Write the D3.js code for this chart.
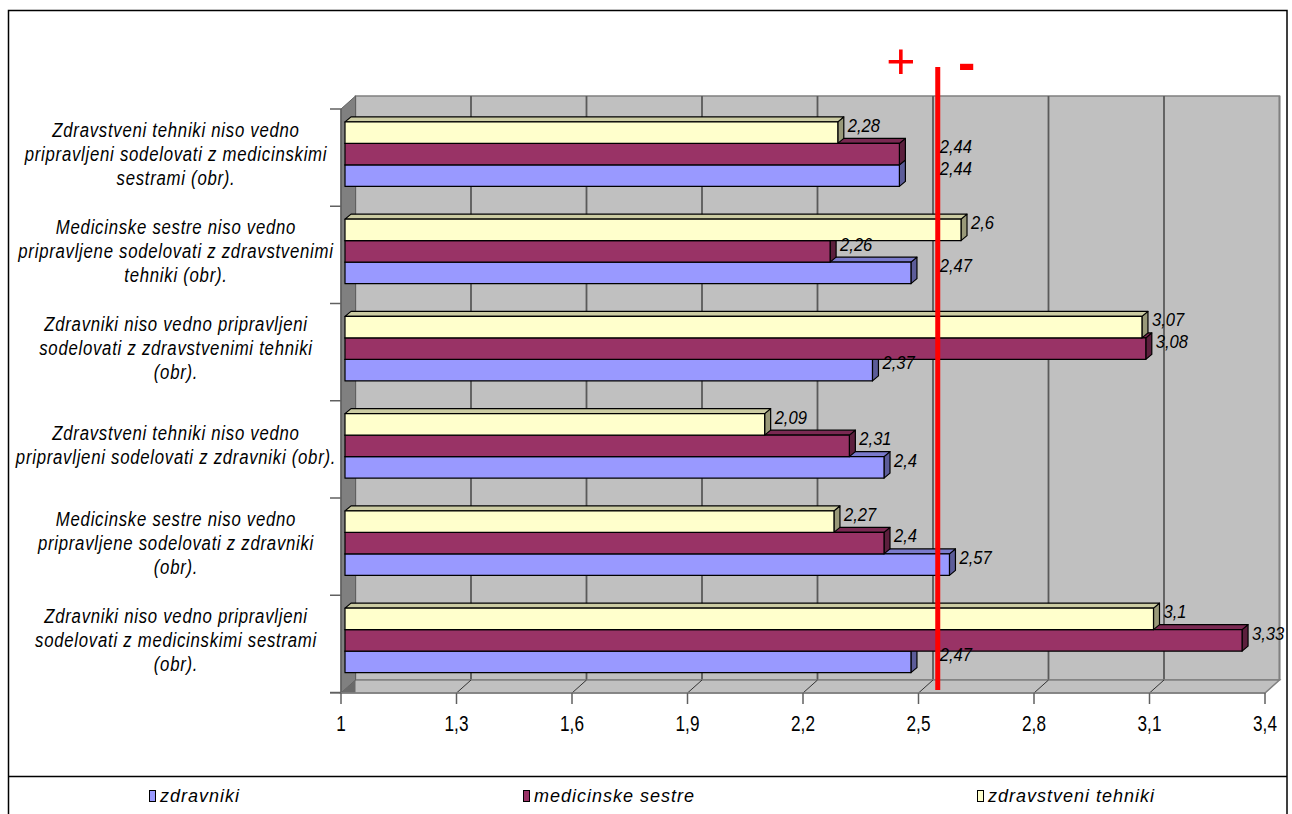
<!DOCTYPE html>
<html><head><meta charset="utf-8">
<script src="https://cdn.jsdelivr.net/npm/d3@7"></script>
<style>body{margin:0;background:#fff} svg{display:block}</style>
</head><body>
<svg id="c" width="1292" height="814"></svg>
<script>
// ---------- DATA ----------
const categories = [
  "Zdravstveni tehniki niso vedno pripravljeni sodelovati z medicinskimi sestrami (obr).",
  "Medicinske sestre niso vedno pripravljene sodelovati z zdravstvenimi tehniki (obr).",
  "Zdravniki niso vedno pripravljeni sodelovati z zdravstvenimi tehniki (obr).",
  "Zdravstveni tehniki niso vedno pripravljeni sodelovati z zdravniki (obr).",
  "Medicinske sestre niso vedno pripravljene sodelovati z zdravniki (obr).",
  "Zdravniki niso vedno pripravljeni sodelovati z medicinskimi sestrami (obr)."
];
const categoryLines = [
  ["Zdravstveni tehniki niso vedno", "pripravljeni sodelovati z medicinskimi", "sestrami (obr)."],
  ["Medicinske sestre niso vedno", "pripravljene sodelovati z zdravstvenimi", "tehniki (obr)."],
  ["Zdravniki niso vedno pripravljeni", "sodelovati z zdravstvenimi tehniki", "(obr)."],
  ["Zdravstveni tehniki niso vedno", "pripravljeni sodelovati z zdravniki (obr)."],
  ["Medicinske sestre niso vedno", "pripravljene sodelovati z zdravniki", "(obr)."],
  ["Zdravniki niso vedno pripravljeni", "sodelovati z medicinskimi sestrami", "(obr)."]
];
const seriesNames = ["zdravniki", "medicinske sestre", "zdravstveni tehniki"];
const zdravniki = [2.44, 2.47, 2.37, 2.4, 2.57, 2.47];
const medicinskeSestre = [2.44, 2.26, 3.08, 2.31, 2.4, 3.33];
const zdravstveniTehniki = [2.28, 2.6, 3.07, 2.09, 2.27, 3.1];
const xTicks = [1, 1.3, 1.6, 1.9, 2.2, 2.5, 2.8, 3.1, 3.4];
const xTickLabels = ["1", "1,3", "1,6", "1,9", "2,2", "2,5", "2,8", "3,1", "3,4"];
const thresholdValue = 2.55;
const thresholdLabels = ["+", "-"];

// ---------- STYLE ----------
const seriesColors = {
  "zdravniki": {front: "#9999ff", top: "#7a7acc", side: "#5c5c99"},
  "medicinske sestre": {front: "#993366", top: "#7a2952", side: "#5c1f3d"},
  "zdravstveni tehniki": {front: "#ffffcc", top: "#cccca3", side: "#999979"}
};
const seriesValues = {
  "zdravniki": zdravniki,
  "medicinske sestre": medicinskeSestre,
  "zdravstveni tehniki": zdravstveniTehniki
};
const FONT = "'Liberation Sans', Arial, sans-serif";

const svg = d3.select("#c");

// frame
svg.append("rect").attr("x", 8.5).attr("y", 10.5).attr("width", 1278.5).attr("height", 830)
  .attr("fill", "#fff").attr("stroke", "#000").attr("stroke-width", 1.5);
svg.append("line").attr("x1", 8).attr("x2", 1287).attr("y1", 776.5).attr("y2", 776.5)
  .attr("stroke", "#000").attr("stroke-width", 1.5);

// scales (front plane)
const x = d3.scaleLinear().domain([1, 3.4]).range([341, 1265]);
const y = d3.scaleBand().domain(categories).range([109, 692.5]).paddingInner(0).paddingOuter(0);
const DX = 14.5, DY = -13;       // depth of the 3D box
const BX = 4, BY = -3.5;          // bar front plane offset
const BDX = 6, BDY = -5;          // bar depth

const yTop = 109, yBot = 693;

// back wall
svg.append("rect").attr("x", x(1) + DX).attr("y", yTop + DY)
  .attr("width", x(3.4) - x(1)).attr("height", yBot - yTop)
  .attr("fill", "#c0c0c0").attr("stroke", "#808080").attr("stroke-width", 1.5);

// back gridlines
svg.append("g").selectAll("line").data(xTicks.slice(1)).join("line")
  .attr("x1", d => x(d) + DX).attr("x2", d => x(d) + DX)
  .attr("y1", yTop + DY).attr("y2", yBot + DY)
  .attr("stroke", d => d === 3.4 ? "#808080" : "#5a5a5a").attr("stroke-width", 1.8);

// floor
svg.append("path")
  .attr("d", `M${x(1)},${yBot} L${x(1) + DX},${yBot + DY} L${x(3.4) + DX},${yBot + DY} L${x(3.4)},${yBot} Z`)
  .attr("fill", "#c0c0c0").attr("stroke", "#808080").attr("stroke-width", 1.5);
svg.append("g").selectAll("line").data(xTicks.slice(1, -1)).join("line")
  .attr("x1", d => x(d)).attr("x2", d => x(d) + DX)
  .attr("y1", yBot).attr("y2", yBot + DY)
  .attr("stroke", "#333").attr("stroke-width", 1);

// side wall
svg.append("path")
  .attr("d", `M${x(1)},${yTop} L${x(1) + DX},${yTop + DY} L${x(1) + DX},${yBot + DY} L${x(1)},${yBot} Z`)
  .attr("fill", "#808080").attr("stroke", "#606060").attr("stroke-width", 1);
svg.append("path")
  .attr("d", `M${x(1)},${yBot} L${x(1) + DX},${yBot + DY} L${x(1) + DX},${yBot} Z`)
  .attr("fill", "#6a6a6a");

// axis lines
svg.append("line").attr("x1", x(1)).attr("x2", x(1)).attr("y1", yTop).attr("y2", yBot)
  .attr("stroke", "#606060").attr("stroke-width", 1.5);
svg.append("line").attr("x1", 330).attr("x2", x(3.4)).attr("y1", yBot).attr("y2", yBot)
  .attr("stroke", "#808080").attr("stroke-width", 1.5);

// left ticks at category boundaries
const boundaries = categories.map(c => y(c)).concat([y.range()[1]]);
svg.append("g").selectAll("line").data(boundaries).join("line")
  .attr("x1", 330).attr("x2", x(1)).attr("y1", d => d).attr("y2", d => d)
  .attr("stroke", "#606060").attr("stroke-width", 1.5);

// bottom ticks
svg.append("g").selectAll("line").data(xTicks).join("line")
  .attr("x1", d => x(d)).attr("x2", d => x(d)).attr("y1", yBot).attr("y2", yBot + 11)
  .attr("stroke", "#606060").attr("stroke-width", 1.5);

// tick labels
svg.append("g").selectAll("text").data(xTicks).join("text")
  .attr("transform", d => `translate(${x(d)},731) scale(0.78,1)`)
  .attr("text-anchor", "middle").attr("font-family", FONT).attr("font-size", 22)
  .attr("fill", "#000").text((d, i) => xTickLabels[i]);

// category labels
categories.forEach((c, i) => {
  const lines = categoryLines[i];
  const cy = y(c) + y.bandwidth() / 2 - 3.5;
  const lh = 24;
  lines.forEach((ln, j) => {
    const ly = cy + (j - (lines.length - 1) / 2) * lh;
    svg.append("text")
      .attr("transform", `translate(176,${ly}) scale(0.86,1)`)
      .attr("text-anchor", "middle").attr("dominant-baseline", "central")
      .attr("font-family", FONT).attr("font-style", "italic").attr("font-size", 19.5)
      .attr("letter-spacing", 0.85)
      .attr("fill", "#000").text(ln);
  });
});

// threshold position
const tx = x(thresholdValue);

// bars
const stackOrder = ["zdravstveni tehniki", "medicinske sestre", "zdravniki"]; // top to bottom
const drawOrder = ["zdravniki", "medicinske sestre", "zdravstveni tehniki"];
const barsG = svg.append("g");
const lineG = svg.append("g");
const labelsG = svg.append("g");
categories.forEach((c, i) => {
  const center = y(c) + y.bandwidth() / 2 + BY;
  const inner = d3.scaleBand().domain(stackOrder).range([center - 32.25, center + 32.25]);
  drawOrder.forEach(s => {
    const v = seriesValues[s][i];
    const col = seriesColors[s];
    const x0 = x(1) + BX, x1 = x(v) + BX;
    const y0 = inner(s), h = inner.bandwidth();
    const g = barsG.append("g").attr("stroke", "#000").attr("stroke-width", 1.2).attr("stroke-linejoin", "round");
    g.append("path")
      .attr("d", `M${x1},${y0} L${x1 + BDX},${y0 + BDY} L${x1 + BDX},${y0 + h + BDY} L${x1},${y0 + h} Z`)
      .attr("fill", col.side);
    g.append("path")
      .attr("d", `M${x0},${y0} L${x0 + BDX},${y0 + BDY} L${x1 + BDX},${y0 + BDY} L${x1},${y0} Z`)
      .attr("fill", col.top);
    g.append("rect").attr("x", x0).attr("y", y0).attr("width", x1 - x0).attr("height", h)
      .attr("fill", col.front);
    // label placement, moved past the threshold line when it would collide with it
    let lx = x1 + BDX + 4;
    const lw = 30;
    if (lx < tx + 4 && lx + lw > tx - 3) lx = tx + 2;
    labelsG.append("text")
      .attr("transform", `translate(${lx},${y0 + h / 2 - 7}) scale(0.89,1)`)
      .attr("dominant-baseline", "central")
      .attr("font-family", FONT).attr("font-style", "italic").attr("font-size", 18.6)
      .attr("fill", "#000").text(String(v).replace(".", ","));
  });
});

// threshold line
lineG.append("line").attr("x1", tx).attr("x2", tx).attr("y1", 67).attr("y2", 690)
  .attr("stroke", "#ff0000").attr("stroke-width", 5);
svg.append("text").attr("x", tx - 37).attr("y", 78).attr("text-anchor", "middle")
  .attr("font-family", FONT).attr("font-size", 50).attr("fill", "#ff0000").text(thresholdLabels[0]);
svg.append("text").attr("x", tx + 29).attr("y", 80).attr("text-anchor", "middle")
  .attr("font-family", FONT).attr("font-weight", "bold").attr("font-size", 52).attr("fill", "#ff0000").text(thresholdLabels[1]);

// legend
const legendX = d3.scaleOrdinal().domain(seriesNames).range([149, 523, 977]);
const lg = svg.append("g").selectAll("g").data(seriesNames).join("g")
  .attr("transform", d => `translate(${legendX(d)},790)`);
lg.append("rect").attr("x", 0.5).attr("y", 0.5).attr("width", 6).attr("height", 11)
  .attr("fill", d => seriesColors[d].front).attr("stroke", "#000").attr("stroke-width", 1);
lg.append("text").attr("x", 11).attr("y", 12)
  .attr("font-family", FONT).attr("font-style", "italic").attr("font-size", 18)
  .attr("letter-spacing", 1).attr("fill", "#000").text(d => d);
</script>
</body></html>
